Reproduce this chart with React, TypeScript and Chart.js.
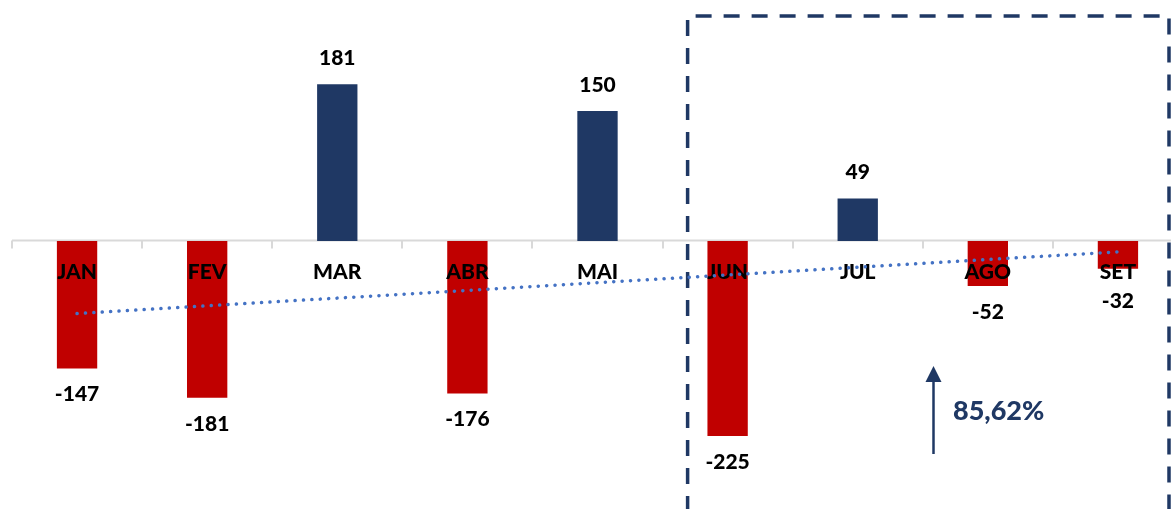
import React, { useEffect, useRef } from "react";
import { Chart, registerables } from "chart.js";

Chart.register(...registerables);

const categories = ["JAN", "FEV", "MAR", "ABR", "MAI", "JUN", "JUL", "AGO", "SET"];
const values = [-147, -181, 181, -176, 150, -225, 49, -52, -32];
// trendline endpoints (first and last month)
const trendValues = [-83.7, null, null, null, null, null, null, null, -12.5];
const growthLabel = "85,62%";

const RED = "#c00000";
const NAVY = "#1f3864";
const FONT = "Lato, 'Noto Sans', sans-serif";

const overlayPlugin = {
  id: "overlay",
  beforeDatasetsDraw(chart: any) {
    const { ctx, chartArea, scales } = chart;
    const x = scales.x;
    const y = scales.y;
    const y0 = Math.round(y.getPixelForValue(0)) - 0.5;
    ctx.save();
    ctx.strokeStyle = "#d9d9d9";
    ctx.lineWidth = 2;
    ctx.beginPath();
    ctx.moveTo(chartArea.left, y0);
    ctx.lineTo(chartArea.right, y0);
    const w = (x.getPixelForValue(1) - x.getPixelForValue(0));
    for (let k = 0; k <= categories.length; k++) {
      const px = Math.round(x.getPixelForValue(0) - w / 2 + k * w);
      ctx.moveTo(px, y0);
      ctx.lineTo(px, y0 + 8);
    }
    ctx.stroke();
    ctx.restore();
  },
  afterDatasetDraw(chart: any, args: any) {
    if (args.index !== 0) return;
    const { ctx, scales } = chart;
    const x = scales.x;
    const y = scales.y;
    const y0 = y.getPixelForValue(0);
    ctx.save();
    ctx.font = `900 21px ${FONT}`;
    ctx.fillStyle = "#000";
    ctx.textAlign = "center";
    ctx.textBaseline = "middle";
    categories.forEach((c, i) => {
      ctx.fillText(c, x.getPixelForValue(i), y0 + 31);
    });
    values.forEach((v, i) => {
      const py = y.getPixelForValue(v);
      const ly = v >= 0 ? py - 26 : Math.max(py + 26, y0 + 60);
      ctx.fillText(String(v), x.getPixelForValue(i), ly);
    });
    // dashed highlight box
    const bx = x.getPixelForValue(5) - 40;
    ctx.strokeStyle = NAVY;
    ctx.lineWidth = 3.5;
    ctx.setLineDash([16, 12]);
    ctx.beginPath();
    ctx.moveTo(bx, 512);
    ctx.lineTo(bx, 16);
    ctx.lineTo(1169, 16);
    ctx.lineTo(1169, 512);
    ctx.stroke();
    ctx.setLineDash([]);
    // arrow
    ctx.lineWidth = 2.5;
    ctx.beginPath();
    ctx.moveTo(933.5, 454);
    ctx.lineTo(933.5, 380);
    ctx.stroke();
    ctx.fillStyle = NAVY;
    ctx.beginPath();
    ctx.moveTo(933.5, 366);
    ctx.lineTo(925.5, 382);
    ctx.lineTo(941.5, 382);
    ctx.closePath();
    ctx.fill();
    ctx.font = `900 27px ${FONT}`;
    ctx.textAlign = "left";
    ctx.fillText(growthLabel, 953, 411);
    ctx.restore();
  },
};

export default function App() {
  const ref = useRef<HTMLCanvasElement | null>(null);
  useEffect(() => {
    document.body.style.margin = "0";
    document.body.style.overflow = "hidden";
    const chart = new Chart(ref.current as HTMLCanvasElement, {
      type: "bar",
      data: {
        labels: categories,
        datasets: [
          {
            type: "bar",
            data: values,
            backgroundColor: values.map((v) => (v >= 0 ? NAVY : RED)),
            barPercentage: 0.31,
            categoryPercentage: 1,
            order: 2,
          },
          {
            type: "line",
            data: trendValues as any,
            spanGaps: true,
            borderColor: "#4472c4",
            borderWidth: 3.5,
            borderDash: [0.1, 8.3],
            borderCapStyle: "round",
            pointRadius: 0,
            fill: false,
            order: 1,
          },
        ],
      },
      options: {
        animation: false,
        responsive: true,
        maintainAspectRatio: false,
        layout: { padding: { left: 12, right: 12, top: 7, bottom: 8 } },
        plugins: { legend: { display: false }, tooltip: { enabled: false } },
        scales: {
          x: { display: false, offset: true },
          y: { display: false, min: -300, max: 270 },
        },
      },
      plugins: [overlayPlugin],
    } as any);
    return () => chart.destroy();
  }, []);
  return (
    <div style={{ width: 1171, height: 509, overflow: "hidden", position: "relative" }}>
      <div style={{ width: 1195, height: 509, position: "relative" }}>
        <canvas ref={ref} />
      </div>
    </div>
  );
}
